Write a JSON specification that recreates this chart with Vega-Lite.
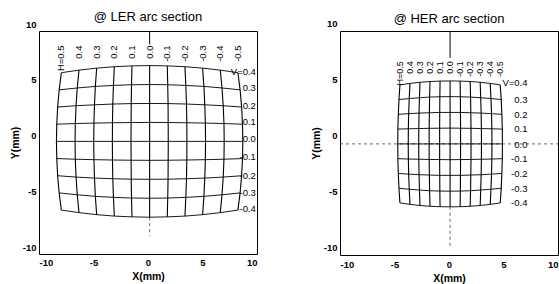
{
"$schema":"https://vega.github.io/schema/vega-lite/v6.json",
"autosize":{"type":"pad"},
"padding":{"left":9,"top":10,"right":0,"bottom":0},
"spacing":52,
"background":"white",
"config":{
 "view":{"stroke":"black","strokeWidth":1},
 "axis":{"labelFont":"Liberation Sans","labelFontWeight":"bold","labelFontSize":9.5,"labelColor":"black","titleFont":"Liberation Sans","titleFontSize":10.5,"titleFontWeight":"bold","titleColor":"black","ticks":false,"domain":false,"grid":false,"labelExpr":"replace(datum.label,'−','-')"},
 "title":{"font":"Liberation Sans","fontSize":13,"fontWeight":"normal","color":"black","frame":"group"}
},
"datasets":{
"grid":[
{"p":"L","h":0.5,"v":0.4,"x":-7.95,"y":6.26},{"p":"L","h":0.4,"v":0.4,"x":-6.33,"y":6.49},{"p":"L","h":0.3,"v":0.4,"x":-4.71,"y":6.67},{"p":"L","h":0.2,"v":0.4,"x":-3.09,"y":6.80},{"p":"L","h":0.1,"v":0.4,"x":-1.47,"y":6.87},{"p":"L","h":0,"v":0.4,"x":0.15,"y":6.90},{"p":"L","h":-0.1,"v":0.4,"x":1.77,"y":6.87},{"p":"L","h":-0.2,"v":0.4,"x":3.39,"y":6.80},{"p":"L","h":-0.3,"v":0.4,"x":5.01,"y":6.67},{"p":"L","h":-0.4,"v":0.4,"x":6.63,"y":6.49},{"p":"L","h":-0.5,"v":0.4,"x":8.25,"y":6.26},
{"p":"L","h":0.5,"v":0.3,"x":-8.15,"y":4.72},{"p":"L","h":0.4,"v":0.3,"x":-6.49,"y":4.89},{"p":"L","h":0.3,"v":0.3,"x":-4.83,"y":5.03},{"p":"L","h":0.2,"v":0.3,"x":-3.17,"y":5.12},{"p":"L","h":0.1,"v":0.3,"x":-1.51,"y":5.18},{"p":"L","h":0,"v":0.3,"x":0.15,"y":5.20},{"p":"L","h":-0.1,"v":0.3,"x":1.81,"y":5.18},{"p":"L","h":-0.2,"v":0.3,"x":3.47,"y":5.12},{"p":"L","h":-0.3,"v":0.3,"x":5.13,"y":5.03},{"p":"L","h":-0.4,"v":0.3,"x":6.79,"y":4.89},{"p":"L","h":-0.5,"v":0.3,"x":8.45,"y":4.72},
{"p":"L","h":0.5,"v":0.2,"x":-8.29,"y":3.18},{"p":"L","h":0.4,"v":0.2,"x":-6.60,"y":3.30},{"p":"L","h":0.3,"v":0.2,"x":-4.91,"y":3.38},{"p":"L","h":0.2,"v":0.2,"x":-3.23,"y":3.45},{"p":"L","h":0.1,"v":0.2,"x":-1.54,"y":3.49},{"p":"L","h":0,"v":0.2,"x":0.15,"y":3.50},{"p":"L","h":-0.1,"v":0.2,"x":1.84,"y":3.49},{"p":"L","h":-0.2,"v":0.2,"x":3.53,"y":3.45},{"p":"L","h":-0.3,"v":0.2,"x":5.21,"y":3.38},{"p":"L","h":-0.4,"v":0.2,"x":6.90,"y":3.30},{"p":"L","h":-0.5,"v":0.2,"x":8.59,"y":3.18},
{"p":"L","h":0.5,"v":0.1,"x":-8.37,"y":1.64},{"p":"L","h":0.4,"v":0.1,"x":-6.67,"y":1.70},{"p":"L","h":0.3,"v":0.1,"x":-4.96,"y":1.74},{"p":"L","h":0.2,"v":0.1,"x":-3.26,"y":1.77},{"p":"L","h":0.1,"v":0.1,"x":-1.55,"y":1.79},{"p":"L","h":0,"v":0.1,"x":0.15,"y":1.80},{"p":"L","h":-0.1,"v":0.1,"x":1.85,"y":1.79},{"p":"L","h":-0.2,"v":0.1,"x":3.56,"y":1.77},{"p":"L","h":-0.3,"v":0.1,"x":5.26,"y":1.74},{"p":"L","h":-0.4,"v":0.1,"x":6.97,"y":1.70},{"p":"L","h":-0.5,"v":0.1,"x":8.67,"y":1.64},
{"p":"L","h":0.5,"v":0,"x":-8.40,"y":0.10},{"p":"L","h":0.4,"v":0,"x":-6.69,"y":0.10},{"p":"L","h":0.3,"v":0,"x":-4.98,"y":0.10},{"p":"L","h":0.2,"v":0,"x":-3.27,"y":0.10},{"p":"L","h":0.1,"v":0,"x":-1.56,"y":0.10},{"p":"L","h":0,"v":0,"x":0.15,"y":0.10},{"p":"L","h":-0.1,"v":0,"x":1.86,"y":0.10},{"p":"L","h":-0.2,"v":0,"x":3.57,"y":0.10},{"p":"L","h":-0.3,"v":0,"x":5.28,"y":0.10},{"p":"L","h":-0.4,"v":0,"x":6.99,"y":0.10},{"p":"L","h":-0.5,"v":0,"x":8.70,"y":0.10},
{"p":"L","h":0.5,"v":-0.1,"x":-8.37,"y":-1.44},{"p":"L","h":0.4,"v":-0.1,"x":-6.67,"y":-1.50},{"p":"L","h":0.3,"v":-0.1,"x":-4.96,"y":-1.54},{"p":"L","h":0.2,"v":-0.1,"x":-3.26,"y":-1.57},{"p":"L","h":0.1,"v":-0.1,"x":-1.55,"y":-1.59},{"p":"L","h":0,"v":-0.1,"x":0.15,"y":-1.60},{"p":"L","h":-0.1,"v":-0.1,"x":1.85,"y":-1.59},{"p":"L","h":-0.2,"v":-0.1,"x":3.56,"y":-1.57},{"p":"L","h":-0.3,"v":-0.1,"x":5.26,"y":-1.54},{"p":"L","h":-0.4,"v":-0.1,"x":6.97,"y":-1.50},{"p":"L","h":-0.5,"v":-0.1,"x":8.67,"y":-1.44},
{"p":"L","h":0.5,"v":-0.2,"x":-8.29,"y":-2.98},{"p":"L","h":0.4,"v":-0.2,"x":-6.60,"y":-3.10},{"p":"L","h":0.3,"v":-0.2,"x":-4.91,"y":-3.19},{"p":"L","h":0.2,"v":-0.2,"x":-3.23,"y":-3.25},{"p":"L","h":0.1,"v":-0.2,"x":-1.54,"y":-3.29},{"p":"L","h":0,"v":-0.2,"x":0.15,"y":-3.30},{"p":"L","h":-0.1,"v":-0.2,"x":1.84,"y":-3.29},{"p":"L","h":-0.2,"v":-0.2,"x":3.53,"y":-3.25},{"p":"L","h":-0.3,"v":-0.2,"x":5.21,"y":-3.19},{"p":"L","h":-0.4,"v":-0.2,"x":6.90,"y":-3.10},{"p":"L","h":-0.5,"v":-0.2,"x":8.59,"y":-2.98},
{"p":"L","h":0.5,"v":-0.3,"x":-8.15,"y":-4.52},{"p":"L","h":0.4,"v":-0.3,"x":-6.49,"y":-4.69},{"p":"L","h":0.3,"v":-0.3,"x":-4.83,"y":-4.83},{"p":"L","h":0.2,"v":-0.3,"x":-3.17,"y":-4.92},{"p":"L","h":0.1,"v":-0.3,"x":-1.51,"y":-4.98},{"p":"L","h":0,"v":-0.3,"x":0.15,"y":-5.00},{"p":"L","h":-0.1,"v":-0.3,"x":1.81,"y":-4.98},{"p":"L","h":-0.2,"v":-0.3,"x":3.47,"y":-4.92},{"p":"L","h":-0.3,"v":-0.3,"x":5.13,"y":-4.83},{"p":"L","h":-0.4,"v":-0.3,"x":6.79,"y":-4.69},{"p":"L","h":-0.5,"v":-0.3,"x":8.45,"y":-4.52},
{"p":"L","h":0.5,"v":-0.4,"x":-7.95,"y":-6.06},{"p":"L","h":0.4,"v":-0.4,"x":-6.33,"y":-6.29},{"p":"L","h":0.3,"v":-0.4,"x":-4.71,"y":-6.47},{"p":"L","h":0.2,"v":-0.4,"x":-3.09,"y":-6.60},{"p":"L","h":0.1,"v":-0.4,"x":-1.47,"y":-6.67},{"p":"L","h":0,"v":-0.4,"x":0.15,"y":-6.70},{"p":"L","h":-0.1,"v":-0.4,"x":1.77,"y":-6.67},{"p":"L","h":-0.2,"v":-0.4,"x":3.39,"y":-6.60},{"p":"L","h":-0.3,"v":-0.4,"x":5.01,"y":-6.47},{"p":"L","h":-0.4,"v":-0.4,"x":6.63,"y":-6.29},{"p":"L","h":-0.5,"v":-0.4,"x":8.25,"y":-6.06},
{"p":"R","h":0.5,"v":0.4,"x":-4.50,"y":5.19},{"p":"R","h":0.4,"v":0.4,"x":-3.58,"y":5.32},{"p":"R","h":0.3,"v":0.4,"x":-2.66,"y":5.42},{"p":"R","h":0.2,"v":0.4,"x":-1.74,"y":5.49},{"p":"R","h":0.1,"v":0.4,"x":-0.82,"y":5.53},{"p":"R","h":0,"v":0.4,"x":0.10,"y":5.54},{"p":"R","h":-0.1,"v":0.4,"x":1.02,"y":5.53},{"p":"R","h":-0.2,"v":0.4,"x":1.94,"y":5.49},{"p":"R","h":-0.3,"v":0.4,"x":2.86,"y":5.42},{"p":"R","h":-0.4,"v":0.4,"x":3.78,"y":5.32},{"p":"R","h":-0.5,"v":0.4,"x":4.70,"y":5.19},
{"p":"R","h":0.5,"v":0.3,"x":-4.59,"y":3.88},{"p":"R","h":0.4,"v":0.3,"x":-3.65,"y":3.97},{"p":"R","h":0.3,"v":0.3,"x":-2.71,"y":4.04},{"p":"R","h":0.2,"v":0.3,"x":-1.78,"y":4.10},{"p":"R","h":0.1,"v":0.3,"x":-0.84,"y":4.13},{"p":"R","h":0,"v":0.3,"x":0.10,"y":4.14},{"p":"R","h":-0.1,"v":0.3,"x":1.04,"y":4.13},{"p":"R","h":-0.2,"v":0.3,"x":1.98,"y":4.10},{"p":"R","h":-0.3,"v":0.3,"x":2.91,"y":4.04},{"p":"R","h":-0.4,"v":0.3,"x":3.85,"y":3.97},{"p":"R","h":-0.5,"v":0.3,"x":4.79,"y":3.88},
{"p":"R","h":0.5,"v":0.2,"x":-4.65,"y":2.56},{"p":"R","h":0.4,"v":0.2,"x":-3.70,"y":2.62},{"p":"R","h":0.3,"v":0.2,"x":-2.75,"y":2.67},{"p":"R","h":0.2,"v":0.2,"x":-1.80,"y":2.70},{"p":"R","h":0.1,"v":0.2,"x":-0.85,"y":2.73},{"p":"R","h":0,"v":0.2,"x":0.10,"y":2.73},{"p":"R","h":-0.1,"v":0.2,"x":1.05,"y":2.73},{"p":"R","h":-0.2,"v":0.2,"x":2.00,"y":2.70},{"p":"R","h":-0.3,"v":0.2,"x":2.95,"y":2.67},{"p":"R","h":-0.4,"v":0.2,"x":3.90,"y":2.62},{"p":"R","h":-0.5,"v":0.2,"x":4.85,"y":2.56},
{"p":"R","h":0.5,"v":0.1,"x":-4.69,"y":1.24},{"p":"R","h":0.4,"v":0.1,"x":-3.73,"y":1.27},{"p":"R","h":0.3,"v":0.1,"x":-2.77,"y":1.29},{"p":"R","h":0.2,"v":0.1,"x":-1.82,"y":1.31},{"p":"R","h":0.1,"v":0.1,"x":-0.86,"y":1.32},{"p":"R","h":0,"v":0.1,"x":0.10,"y":1.33},{"p":"R","h":-0.1,"v":0.1,"x":1.06,"y":1.32},{"p":"R","h":-0.2,"v":0.1,"x":2.02,"y":1.31},{"p":"R","h":-0.3,"v":0.1,"x":2.97,"y":1.29},{"p":"R","h":-0.4,"v":0.1,"x":3.93,"y":1.27},{"p":"R","h":-0.5,"v":0.1,"x":4.89,"y":1.24},
{"p":"R","h":0.5,"v":0,"x":-4.70,"y":-0.08},{"p":"R","h":0.4,"v":0,"x":-3.74,"y":-0.08},{"p":"R","h":0.3,"v":0,"x":-2.78,"y":-0.08},{"p":"R","h":0.2,"v":0,"x":-1.82,"y":-0.08},{"p":"R","h":0.1,"v":0,"x":-0.86,"y":-0.08},{"p":"R","h":0,"v":0,"x":0.10,"y":-0.08},{"p":"R","h":-0.1,"v":0,"x":1.06,"y":-0.08},{"p":"R","h":-0.2,"v":0,"x":2.02,"y":-0.08},{"p":"R","h":-0.3,"v":0,"x":2.98,"y":-0.08},{"p":"R","h":-0.4,"v":0,"x":3.94,"y":-0.08},{"p":"R","h":-0.5,"v":0,"x":4.90,"y":-0.08},
{"p":"R","h":0.5,"v":-0.1,"x":-4.69,"y":-1.40},{"p":"R","h":0.4,"v":-0.1,"x":-3.73,"y":-1.43},{"p":"R","h":0.3,"v":-0.1,"x":-2.77,"y":-1.45},{"p":"R","h":0.2,"v":-0.1,"x":-1.82,"y":-1.47},{"p":"R","h":0.1,"v":-0.1,"x":-0.86,"y":-1.48},{"p":"R","h":0,"v":-0.1,"x":0.10,"y":-1.49},{"p":"R","h":-0.1,"v":-0.1,"x":1.06,"y":-1.48},{"p":"R","h":-0.2,"v":-0.1,"x":2.02,"y":-1.47},{"p":"R","h":-0.3,"v":-0.1,"x":2.97,"y":-1.45},{"p":"R","h":-0.4,"v":-0.1,"x":3.93,"y":-1.43},{"p":"R","h":-0.5,"v":-0.1,"x":4.89,"y":-1.40},
{"p":"R","h":0.5,"v":-0.2,"x":-4.65,"y":-2.72},{"p":"R","h":0.4,"v":-0.2,"x":-3.70,"y":-2.78},{"p":"R","h":0.3,"v":-0.2,"x":-2.75,"y":-2.83},{"p":"R","h":0.2,"v":-0.2,"x":-1.80,"y":-2.86},{"p":"R","h":0.1,"v":-0.2,"x":-0.85,"y":-2.89},{"p":"R","h":0,"v":-0.2,"x":0.10,"y":-2.89},{"p":"R","h":-0.1,"v":-0.2,"x":1.05,"y":-2.89},{"p":"R","h":-0.2,"v":-0.2,"x":2.00,"y":-2.86},{"p":"R","h":-0.3,"v":-0.2,"x":2.95,"y":-2.83},{"p":"R","h":-0.4,"v":-0.2,"x":3.90,"y":-2.78},{"p":"R","h":-0.5,"v":-0.2,"x":4.85,"y":-2.72},
{"p":"R","h":0.5,"v":-0.3,"x":-4.59,"y":-4.04},{"p":"R","h":0.4,"v":-0.3,"x":-3.65,"y":-4.13},{"p":"R","h":0.3,"v":-0.3,"x":-2.71,"y":-4.20},{"p":"R","h":0.2,"v":-0.3,"x":-1.78,"y":-4.26},{"p":"R","h":0.1,"v":-0.3,"x":-0.84,"y":-4.29},{"p":"R","h":0,"v":-0.3,"x":0.10,"y":-4.30},{"p":"R","h":-0.1,"v":-0.3,"x":1.04,"y":-4.29},{"p":"R","h":-0.2,"v":-0.3,"x":1.98,"y":-4.26},{"p":"R","h":-0.3,"v":-0.3,"x":2.91,"y":-4.20},{"p":"R","h":-0.4,"v":-0.3,"x":3.85,"y":-4.13},{"p":"R","h":-0.5,"v":-0.3,"x":4.79,"y":-4.04},
{"p":"R","h":0.5,"v":-0.4,"x":-4.50,"y":-5.35},{"p":"R","h":0.4,"v":-0.4,"x":-3.58,"y":-5.48},{"p":"R","h":0.3,"v":-0.4,"x":-2.66,"y":-5.58},{"p":"R","h":0.2,"v":-0.4,"x":-1.74,"y":-5.65},{"p":"R","h":0.1,"v":-0.4,"x":-0.82,"y":-5.69},{"p":"R","h":0,"v":-0.4,"x":0.10,"y":-5.70},{"p":"R","h":-0.1,"v":-0.4,"x":1.02,"y":-5.69},{"p":"R","h":-0.2,"v":-0.4,"x":1.94,"y":-5.65},{"p":"R","h":-0.3,"v":-0.4,"x":2.86,"y":-5.58},{"p":"R","h":-0.4,"v":-0.4,"x":3.78,"y":-5.48},{"p":"R","h":-0.5,"v":-0.4,"x":4.70,"y":-5.35}
],
"labs":[
{"p":"L","k":"H","t":"H=0.5","x":-7.95,"y":8.7},{"p":"L","k":"H","t":"0.4","x":-6.33,"y":8.7},{"p":"L","k":"H","t":"0.3","x":-4.71,"y":8.7},{"p":"L","k":"H","t":"0.2","x":-3.09,"y":8.7},{"p":"L","k":"H","t":"0.1","x":-1.47,"y":8.7},{"p":"L","k":"H","t":"0.0","x":0.15,"y":8.7},{"p":"L","k":"H","t":"-0.1","x":1.77,"y":8.7},{"p":"L","k":"H","t":"-0.2","x":3.39,"y":8.7},{"p":"L","k":"H","t":"-0.3","x":5.01,"y":8.7},{"p":"L","k":"H","t":"-0.4","x":6.63,"y":8.7},{"p":"L","k":"H","t":"-0.5","x":8.25,"y":8.7},
{"p":"L","k":"V","t":"V=0.4","x":9.9,"y":6.32},{"p":"L","k":"V","t":"0.3","x":9.9,"y":4.89},{"p":"L","k":"V","t":"0.2","x":9.9,"y":3.27},{"p":"L","k":"V","t":"0.1","x":9.9,"y":1.84},{"p":"L","k":"V","t":"0.0","x":9.9,"y":0.31},{"p":"L","k":"V","t":"-0.1","x":9.9,"y":-1.30},{"p":"L","k":"V","t":"-0.2","x":9.9,"y":-3.0},{"p":"L","k":"V","t":"-0.3","x":9.9,"y":-4.5},{"p":"L","k":"V","t":"-0.4","x":9.9,"y":-5.96},
{"p":"R","k":"H","t":"H=0.5","x":-4.50,"y":7.3},{"p":"R","k":"H","t":"0.4","x":-3.58,"y":7.3},{"p":"R","k":"H","t":"0.3","x":-2.66,"y":7.3},{"p":"R","k":"H","t":"0.2","x":-1.74,"y":7.3},{"p":"R","k":"H","t":"0.1","x":-0.82,"y":7.3},{"p":"R","k":"H","t":"0.0","x":0.10,"y":7.3},{"p":"R","k":"H","t":"-0.1","x":1.02,"y":7.3},{"p":"R","k":"H","t":"-0.2","x":1.94,"y":7.3},{"p":"R","k":"H","t":"-0.3","x":2.86,"y":7.3},{"p":"R","k":"H","t":"-0.4","x":3.78,"y":7.3},{"p":"R","k":"H","t":"-0.5","x":4.70,"y":7.3},
{"p":"R","k":"V","t":"V=0.4","x":7.2,"y":5.36},{"p":"R","k":"V","t":"0.3","x":7.2,"y":3.84},{"p":"R","k":"V","t":"0.2","x":7.2,"y":2.5},{"p":"R","k":"V","t":"0.1","x":7.2,"y":1.25},{"p":"R","k":"V","t":"0.0","x":7.2,"y":-0.18},{"p":"R","k":"V","t":"-0.1","x":7.2,"y":-1.43},{"p":"R","k":"V","t":"-0.2","x":7.2,"y":-2.77},{"p":"R","k":"V","t":"-0.3","x":7.2,"y":-4.11},{"p":"R","k":"V","t":"-0.4","x":7.2,"y":-5.36}
],
"rules":[
{"p":"L","k":"solid","x":0.15,"x2":0.15,"y":10,"y2":8.8},
{"p":"L","k":"dash","x":0.15,"x2":0.15,"y":-6.7,"y2":-8.4},
{"p":"R","k":"solid","x":0.1,"x2":0.1,"y":10,"y2":7.6},
{"p":"R","k":"dash","x":0.1,"x2":0.1,"y":-5.7,"y2":-9.2},
{"p":"R","k":"dash","x":-10,"x2":10,"y":-0.08,"y2":-0.08}
]
},
"hconcat":[
{
 "width":218,"height":223,
 "title":{"text":"@ LER arc section","offset":-5},
 "layer":[
  {"data":{"name":"rules"},"transform":[{"filter":"datum.p=='L' && datum.k=='dash'"}],
   "mark":{"type":"rule","color":"#444","strokeDash":[3,3],"strokeWidth":0.8},
   "encoding":{
    "x":{"field":"x","type":"quantitative","scale":{"domain":[-10,10],"nice":false,"zero":false},"axis":{"title":"X(mm)","values":[-10,-5,0,5,10],"labelPadding":3,"titlePadding":5}},
    "x2":{"field":"x2"},
    "y":{"field":"y","type":"quantitative","scale":{"domain":[-10,10],"nice":false,"zero":false},"axis":{"title":"Y(mm)","values":[-10,-5,0,5,10],"labelPadding":3,"labelOffset":-7,"titlePadding":2}},
    "y2":{"field":"y2"}}},
  {"data":{"name":"rules"},"transform":[{"filter":"datum.p=='L' && datum.k=='solid'"}],
   "mark":{"type":"rule","color":"black","strokeWidth":1},
   "encoding":{"x":{"field":"x","type":"quantitative"},"x2":{"field":"x2"},"y":{"field":"y","type":"quantitative"},"y2":{"field":"y2"}}},
  {"data":{"name":"grid"},"transform":[{"filter":"datum.p=='L'"}],
   "mark":{"type":"line","color":"black","strokeWidth":1.1},
   "encoding":{"x":{"field":"x","type":"quantitative"},"y":{"field":"y","type":"quantitative"},"detail":{"field":"h"},"order":{"field":"v"}}},
  {"data":{"name":"grid"},"transform":[{"filter":"datum.p=='L'"}],
   "mark":{"type":"line","color":"black","strokeWidth":0.9},
   "encoding":{"x":{"field":"x","type":"quantitative"},"y":{"field":"y","type":"quantitative"},"detail":{"field":"v"},"order":{"field":"h"}}},
  {"data":{"name":"labs"},"transform":[{"filter":"datum.p=='L' && datum.k=='H'"}],
   "mark":{"type":"text","angle":270,"align":"right","baseline":"middle","font":"Liberation Sans","fontSize":9.5,"color":"black"},
   "encoding":{"x":{"field":"x","type":"quantitative"},"y":{"field":"y","type":"quantitative"},"text":{"field":"t"}}},
  {"data":{"name":"labs"},"transform":[{"filter":"datum.p=='L' && datum.k=='V'"}],
   "mark":{"type":"text","align":"right","baseline":"middle","font":"Liberation Sans","fontSize":9.5,"color":"black"},
   "encoding":{"x":{"field":"x","type":"quantitative"},"y":{"field":"y","type":"quantitative"},"text":{"field":"t"}}}
 ]
},
{
 "width":218,"height":224,
 "title":{"text":"@ HER arc section","offset":-8},
 "layer":[
  {"data":{"name":"rules"},"transform":[{"filter":"datum.p=='R' && datum.k=='dash'"}],
   "mark":{"type":"rule","color":"#444","strokeDash":[3,3],"strokeWidth":0.8},
   "encoding":{
    "x":{"field":"x","type":"quantitative","scale":{"domain":[-10,10],"nice":false,"zero":false},"axis":{"title":"X(mm)","values":[-10,-5,0,5,10],"labelPadding":4,"titlePadding":5}},
    "x2":{"field":"x2"},
    "y":{"field":"y","type":"quantitative","scale":{"domain":[-10,10],"nice":false,"zero":false},"axis":{"title":"Y(mm)","values":[-10,-5,0,5,10],"labelPadding":3,"labelOffset":-8,"titlePadding":2}},
    "y2":{"field":"y2"}}},
  {"data":{"name":"rules"},"transform":[{"filter":"datum.p=='R' && datum.k=='solid'"}],
   "mark":{"type":"rule","color":"black","strokeWidth":1},
   "encoding":{"x":{"field":"x","type":"quantitative"},"x2":{"field":"x2"},"y":{"field":"y","type":"quantitative"},"y2":{"field":"y2"}}},
  {"data":{"name":"grid"},"transform":[{"filter":"datum.p=='R'"}],
   "mark":{"type":"line","color":"black","strokeWidth":1.1},
   "encoding":{"x":{"field":"x","type":"quantitative"},"y":{"field":"y","type":"quantitative"},"detail":{"field":"h"},"order":{"field":"v"}}},
  {"data":{"name":"grid"},"transform":[{"filter":"datum.p=='R'"}],
   "mark":{"type":"line","color":"black","strokeWidth":0.9},
   "encoding":{"x":{"field":"x","type":"quantitative"},"y":{"field":"y","type":"quantitative"},"detail":{"field":"v"},"order":{"field":"h"}}},
  {"data":{"name":"labs"},"transform":[{"filter":"datum.p=='R' && datum.k=='H'"}],
   "mark":{"type":"text","angle":270,"align":"right","baseline":"middle","font":"Liberation Sans","fontSize":9,"color":"black"},
   "encoding":{"x":{"field":"x","type":"quantitative"},"y":{"field":"y","type":"quantitative"},"text":{"field":"t"}}},
  {"data":{"name":"labs"},"transform":[{"filter":"datum.p=='R' && datum.k=='V'"}],
   "mark":{"type":"text","align":"right","baseline":"middle","font":"Liberation Sans","fontSize":9.5,"color":"black"},
   "encoding":{"x":{"field":"x","type":"quantitative"},"y":{"field":"y","type":"quantitative"},"text":{"field":"t"}}}
 ]
}
]
}
